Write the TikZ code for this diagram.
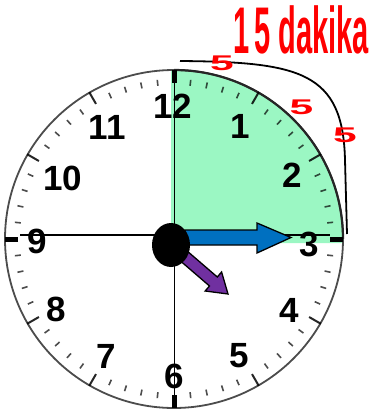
\documentclass[tikz,border=0pt]{standalone}
\usepackage{fontspec}
\setmainfont{Liberation Sans}
\usetikzlibrary{shapes.geometric}
\definecolor{mint}{RGB}{155,247,195}
\definecolor{handblue}{RGB}{0,112,192}
\definecolor{handpurple}{RGB}{112,48,160}
\tikzset{
  minutetick/.style={line width=1.6pt, draw=black, draw opacity=0.7},
  hourtick/.style={line width=2pt, draw=black, draw opacity=0.85},
  quartertick/.style={line width=5pt, draw=black},
  num/.style={font=\bfseries\fontsize{35}{35}\selectfont, inner sep=0pt},
  redfive/.style={font=\bfseries\fontsize{25}{25}\selectfont, text=red, inner sep=0pt, xscale=1.7, yscale=0.85},
  handline/.style={line width=1.5pt, draw=black},
  handoutline/.style={line width=1.3pt, draw=black},
}
\begin{document}
\begin{tikzpicture}[x=1pt,y=-1pt]
\useasboundingbox (0,0) rectangle (371,418);
\coordinate (c) at (174,239);
% green quarter
\fill[mint] (171,243) -- (171,70.5) -- (174,70) arc[start angle=270,end angle=360,radius=169] -- (343,243) -- cycle;
% rim
\draw[line width=1.8pt, black!70] (c) circle[radius=169];
\draw[line width=2.2pt, black!85] (174,70) arc[start angle=270,end angle=360,radius=169];
% ticks
\foreach \i in {0,...,59}{
  \pgfmathtruncatemacro{\r}{mod(\i,5)}
  \ifnum\r=0\relax
  \else
    \draw[minutetick, shift={(c)}] (\i*6:154) -- (\i*6:160);
  \fi
}
\foreach \a in {30,60,120,150,210,240,300,330}{
  \draw[hourtick, shift={(c)}] (\a:156) -- (\a:169.5);
}
\foreach \a in {0,90,180,270}{
  \draw[quartertick, shift={(c)}] (\a:156) -- (\a:169);
}
% numbers
\node[num] (n12) at (173,106.5) {12};
\node[num] (n1) at (240,126) {1};
\node[num] (n2) at (292,175) {2};
\node[num] (n3) at (309,244) {3};
\node[num] (n4) at (289,310) {4};
\node[num] (n5) at (239,356) {5};
\node[num] (n6) at (174,376) {6};
\node[num] (n7) at (106,356) {7};
\node[num] (n8) at (56,309) {8};
\node[num] (n9) at (37,241) {9};
\node[num] (n10) at (63,178) {10};
\node[num] (n11) at (107,127) {11};
% cross lines
\coordinate (hl) at (20,235);
\coordinate (hr) at (330,235);
\coordinate (vt) at (174.5,83);
\coordinate (vb) at (174.5,395);
\draw[handline] (hl) -- (hr);
\draw[handline] (vt) -- (vb);
% blue minute hand
\filldraw[fill=handblue, handoutline] (185,230) -- (257,230) -- (257,223) -- (291,237.5) -- (257,253) -- (257,245) -- (185,245) -- cycle;
% purple hour hand
\filldraw[fill=handpurple, handoutline] (186.3,250.3) -- (217.3,277.0) -- (221.6,272.0) -- (228,294) -- (205.2,291.0) -- (209.5,286.0) -- (178.5,259.3) -- cycle;
% hub
\node[ellipse, fill=black, minimum width=38, minimum height=44, inner sep=0pt] (hub) at (171,245) {};
% curve
\coordinate (cs) at (180,61);
\coordinate (cm) at (345,160);
\coordinate (ce) at (347,234);
\draw[line width=1.8pt] (cs) .. controls (300,62) and (343,72) .. (cm) -- (ce);
% red labels
\node[redfive] (f1) at (222,63) {5};
\node[redfive] (f2) at (301.5,107.5) {5};
\node[redfive] (f3) at (345,135) {5};
\node[font=\bfseries\fontsize{66}{66}\selectfont, text=red, inner sep=0pt, xscale=0.44] (title) at (301,30) {1\,5 dakika};
\end{tikzpicture}
\end{document}
